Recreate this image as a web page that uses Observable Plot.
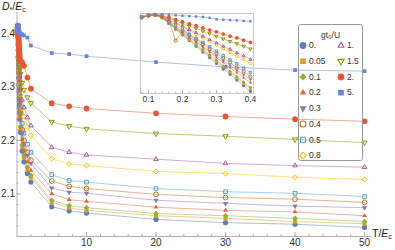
<!DOCTYPE html>
<html><head><meta charset="utf-8">
<script src="https://cdn.jsdelivr.net/npm/d3@7"></script>
<script src="https://cdn.jsdelivr.net/npm/@observablehq/plot@0.6"></script>
<style>
body{margin:0;background:#fff;font-family:"Liberation Sans",Arial,sans-serif;}
#wrap{position:relative;width:395px;height:250px;overflow:hidden;}
#wrap svg{overflow:visible;background:transparent;}
.ov{position:absolute;color:#222;white-space:nowrap;line-height:1;}
.ov sub{font-size:7px;vertical-align:-2px;line-height:0;}
</style></head><body>
<div id="wrap"></div>
<script>
// ---- data ----
const T = [0.06,0.08,0.10,0.12,0.14,0.16,0.18,0.20,0.22,0.24,0.26,0.28,0.30,0.32,0.34,0.36,0.38,0.40,
           0.5,0.75,1,1.5,2,5,7.5,10,20,30,40,50];
const gLabels = ["0.","0.05","0.1","0.2","0.3","0.4","0.5","0.8","1.","1.5","2.","5."];
const D_g0   = [2.403,2.409,2.413,2.415,2.408,2.395,2.382,2.369,2.356,2.343,2.330,2.317,2.304,2.291,2.279,2.266,2.253,2.240, 2.215,2.180,2.160,2.138,2.122,2.076,2.068,2.064,2.052,2.046,2.043,2.037];
const D_g005 = [2.403,2.409,2.413,2.415,2.408,2.396,2.383,2.371,2.358,2.346,2.333,2.321,2.308,2.296,2.283,2.271,2.258,2.246, 2.222,2.188,2.168,2.146,2.131,2.084,2.074,2.069,2.059,2.054,2.048,2.044];
const D_g01  = [2.403,2.409,2.413,2.415,2.409,2.397,2.384,2.372,2.360,2.347,2.335,2.323,2.311,2.298,2.286,2.274,2.261,2.249, 2.226,2.192,2.172,2.150,2.135,2.088,2.078,2.074,2.063,2.059,2.054,2.048];
const D_g02  = [2.403,2.409,2.413,2.415,2.409,2.398,2.386,2.375,2.363,2.352,2.340,2.329,2.317,2.306,2.294,2.283,2.271,2.260, 2.238,2.202,2.182,2.160,2.144,2.100,2.089,2.086,2.075,2.069,2.066,2.059];
const D_g03  = [2.403,2.409,2.413,2.415,2.409,2.398,2.387,2.376,2.365,2.354,2.343,2.332,2.321,2.310,2.299,2.288,2.278,2.267, 2.246,2.213,2.193,2.172,2.157,2.111,2.103,2.101,2.088,2.082,2.077,2.074];
const D_g04  = [2.403,2.409,2.413,2.415,2.410,2.400,2.356,2.379,2.369,2.358,2.348,2.337,2.327,2.316,2.306,2.295,2.285,2.274, 2.253,2.220,2.200,2.178,2.163,2.124,2.114,2.110,2.099,2.093,2.090,2.084];
const D_g05  = [2.403,2.409,2.413,2.415,2.410,2.401,2.391,2.381,2.371,2.361,2.352,2.342,2.332,2.322,2.312,2.303,2.293,2.283, 2.262,2.232,2.214,2.193,2.178,2.136,2.125,2.122,2.110,2.104,2.101,2.095];
const D_g08  = [2.403,2.409,2.413,2.415,2.411,2.403,2.395,2.387,2.379,2.370,2.362,2.354,2.346,2.337,2.329,2.321,2.313,2.304, 2.286,2.260,2.245,2.225,2.210,2.166,2.156,2.153,2.142,2.138,2.131,2.127];
const D_g1   = [2.403,2.409,2.413,2.415,2.411,2.404,2.396,2.389,2.381,2.374,2.366,2.358,2.351,2.343,2.336,2.328,2.321,2.313, 2.298,2.276,2.262,2.243,2.228,2.187,2.178,2.173,2.165,2.157,2.153,2.150];
const D_g15  = [2.404,2.410,2.414,2.415,2.412,2.407,2.401,2.395,2.389,2.384,2.378,2.372,2.366,2.360,2.354,2.349,2.343,2.337, 2.325,2.308,2.295,2.281,2.270,2.235,2.227,2.222,2.213,2.208,2.202,2.196];
const D_g2   = [2.404,2.410,2.414,2.415,2.413,2.409,2.404,2.399,2.394,2.390,2.385,2.380,2.376,2.371,2.366,2.362,2.357,2.352, 2.350,2.346,2.340,2.318,2.297,2.270,2.264,2.260,2.251,2.245,2.240,2.236];
const D_g5   = [2.404,2.410,2.414,2.416,2.416,2.415,2.414,2.413,2.412,2.411,2.410,2.408,2.405,2.404,2.403,2.402,2.401,2.400, 2.400,2.399,2.397,2.393,2.378,2.364,2.362,2.358,2.347,2.338,2.332,2.330];
const xTicks = [10,20,30,40,50];
const yTicks = [2.1,2.2,2.3,2.4];
const insetTicks = [0.1,0.2,0.3,0.4];

// ---- styles ----
const triDown = {draw(ctx, size){
  const s3 = Math.sqrt(3);
  const y = -Math.sqrt(size / (s3 * 3));
  ctx.moveTo(0, -y * 2); ctx.lineTo(-s3 * y, y); ctx.lineTo(s3 * y, y); ctx.closePath();
}};
const colors = ["#5E81B5","#E19C24","#8FB032","#EB6235","#8778B3","#C56E1A","#5D9EC7","#FFBF00","#A5609D","#929600","#E95536","#6685D9"];
const symbols = ["circle","square","diamond2","triangle2",triDown,"circle","square","diamond2","triangle2",triDown,"circle","square"];
const filled = [true,true,true,true,true,false,false,false,false,false,true,true];
const sizeMain = [2.6,2.3,2.5,2.3,2.0,2.4,2.1,2.3,2.2,1.9,2.9,2.1];
const sizeLegend = [3.4,3.2,3.3,3.1,2.6,3.0,2.8,3.0,2.8,2.4,3.4,3.2];

const allD = [D_g0,D_g005,D_g01,D_g02,D_g03,D_g04,D_g05,D_g08,D_g1,D_g15,D_g2,D_g5];
const series = allD.map((vals, k) => T.map((t, i) => ({T: t, D: vals[i], g: gLabels[k]})));

function seriesMarks(scale, filter){
  const lines = series.map((rows, k) => Plot.line(rows, {x: "T", y: "D", filter,
    stroke: colors[k], strokeOpacity: 0.5, strokeWidth: 1}));
  const dots = series.map((rows, k) => Plot.dot(rows, {x: "T", y: "D", filter,
    symbol: () => symbols[k], r: sizeMain[k] * scale,
    fill: filled[k] ? colors[k] : "none", stroke: filled[k] ? "none" : colors[k], strokeWidth: 1}));
  return [...lines, ...dots];
}

const wrap = document.getElementById("wrap");
const textStyle = {fontFamily: '"Liberation Sans", Arial, sans-serif', fontSize: "10px", color: "#333", background: "transparent", overflow: "visible"};

// ---- main chart ----
const main = Plot.plot({
  width: 395, height: 250,
  marginLeft: 16.5, marginRight: 24, marginTop: 12, marginBottom: 14,
  style: textStyle,
  x: {domain: [0, 51], label: null},
  y: {domain: [2.02, 2.44], label: null},
  marks: [
    Plot.ruleX([0], {stroke: "#b0b0b0"}),
    Plot.ruleY([2.02], {stroke: "#b0b0b0"}),
    Plot.axisX(d3.range(2, 51, 2), {tickSize: -2, text: null, stroke: "#b0b0b0", label: null}),
    Plot.axisX(xTicks, {tickSize: -4, tickPadding: 6, stroke: "#b0b0b0", fill: "#333", label: null}),
    Plot.axisY(d3.range(2.04, 2.44, 0.02), {tickSize: -2, text: null, stroke: "#b0b0b0", label: null}),
    Plot.axisY(yTicks, {tickSize: -4, tickPadding: 6, tickFormat: ".1f", stroke: "#b0b0b0", fill: "#333", label: null}),
    ...seriesMarks(1, null)
  ]
});
main.style.position = "absolute"; main.style.left = "0px"; main.style.top = "0px";
wrap.appendChild(main);

// ---- inset ----
const inset = Plot.plot({
  width: 113, height: 93,
  marginLeft: 0, marginRight: 0, marginTop: 0, marginBottom: 13,
  style: {...textStyle, fontSize: "8.5px"},
  x: {domain: [0.0765, 0.409], label: null},
  y: {domain: [2.235, 2.418], label: null, axis: null},
  marks: [
    Plot.frame({stroke: "#c8c8c8"}),
    Plot.axisX(insetTicks, {tickSize: -3, tickPadding: 5, tickFormat: ".1f", stroke: "#b0b0b0", fill: "#333", label: null}),
    Plot.axisX(d3.range(0.08, 0.41, 0.02), {tickSize: -1.5, text: null, stroke: "#b0b0b0", label: null}),
    ...seriesMarks(0.65, d => d.T >= 0.075 && d.T <= 0.41)
  ]
});
inset.style.position = "absolute"; inset.style.left = "140px"; inset.style.top = "13px";
wrap.appendChild(inset);

// ---- legend ----
const legendRows = gLabels.map((g, k) => ({g, k, col: k < 8 ? 0 : 1, row: k < 8 ? k : k - 8}));
const legend = Plot.plot({
  width: 64, height: 136,
  margin: 0,
  style: {...textStyle, fontSize: "8.5px"},
  x: {domain: [0, 1], range: [4.5, 42.5], axis: null},
  y: {domain: [0, 7], range: [21, 131], axis: null},
  marks: [
    Plot.frame({stroke: "#9a9a9a", rx: 2}),
    Plot.text(["gt\u2080/U"], {frameAnchor: "top", dy: 7, fill: "#333"}),
    ...legendRows.map(d => Plot.dot([d], {x: "col", y: "row", symbol: () => symbols[d.k],
      r: sizeLegend[d.k],
      fill: filled[d.k] ? colors[d.k] : "none", stroke: filled[d.k] ? "none" : colors[d.k], strokeWidth: 1.1})),
    Plot.text(legendRows, {x: "col", y: "row", text: "g", textAnchor: "start", dx: 6, fill: "#333"})
  ]
});
legend.style.position = "absolute"; legend.style.left = "298px"; legend.style.top = "24px";
wrap.appendChild(legend);

// ---- axis titles ----
const yt = document.createElement("div");
yt.className = "ov"; yt.style.left = "2px"; yt.style.top = "1px"; yt.style.fontSize = "10.5px";
yt.innerHTML = "<i>D</i><sub>*</sub>/<i>E</i><sub>c</sub>";
wrap.appendChild(yt);
const xt = document.createElement("div");
xt.className = "ov"; xt.style.left = "372px"; xt.style.top = "228px"; xt.style.fontSize = "10.5px";
xt.innerHTML = "T/<i>E</i><sub>c</sub>";
wrap.appendChild(xt);
</script></body></html>
